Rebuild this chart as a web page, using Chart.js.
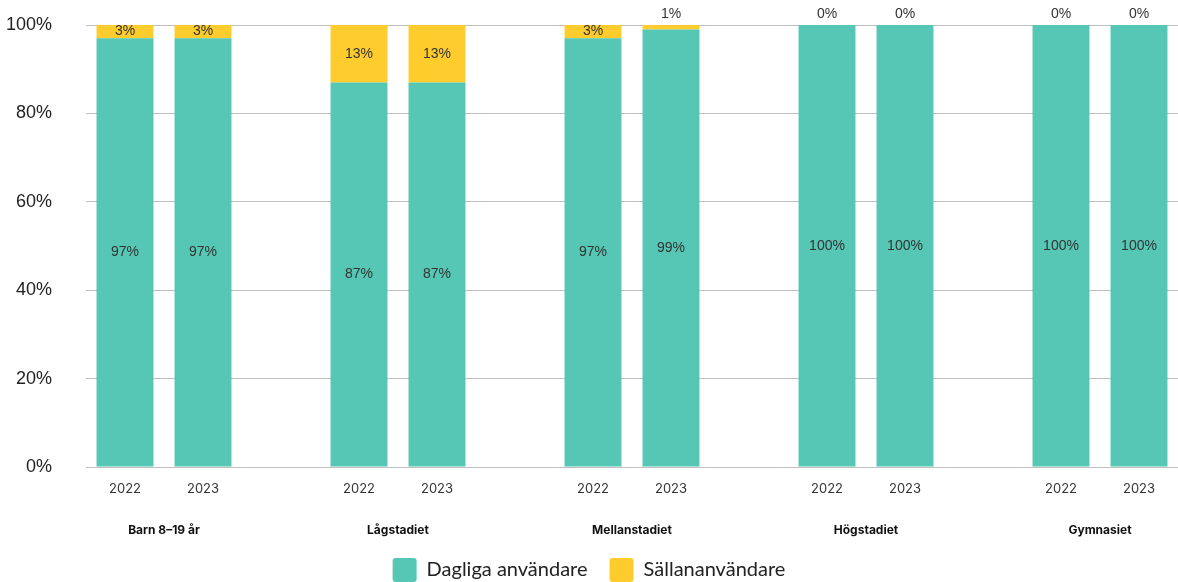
<!DOCTYPE html>
<html>
<head>
<meta charset="utf-8">
<script src="https://cdn.jsdelivr.net/npm/chart.js@4"></script>
<style>
  body { margin: 0; background: #fff; }
</style>
</head>
<body>
<canvas id="chart" width="1178" height="582"></canvas>
<script>
// data
const groups = ['Barn 8–19 år', 'Lågstadiet', 'Mellanstadiet', 'Högstadiet', 'Gymnasiet'];
const years = ['2022', '2023'];
const dagliga = [97, 97, 87, 87, 97, 99, 100, 100, 100, 100];
const sallan = [3, 3, 13, 13, 3, 1, 0, 0, 0, 0];
const yTicks = [0, 20, 40, 60, 80, 100];

// build category axis with an empty slot between groups
const labels = [];
const dagligaData = [];
const sallanData = [];
groups.forEach((g, i) => {
  years.forEach((y, j) => {
    labels.push(y);
    dagligaData.push(dagliga[i * 2 + j]);
    sallanData.push(sallan[i * 2 + j]);
  });
  if (i < groups.length - 1) {
    labels.push('');
    dagligaData.push(null);
    sallanData.push(null);
  }
});

// value labels inside segments (or above the bar if segment is too thin)
const valueLabels = {
  id: 'valueLabels',
  afterDatasetsDraw(chart) {
    const ctx = chart.ctx;
    ctx.save();
    ctx.font = '14px "Liberation Sans", Arial, sans-serif';
    ctx.fillStyle = '#333';
    ctx.textAlign = 'center';
    ctx.textBaseline = 'middle';
    chart.data.datasets.forEach((ds, di) => {
      const meta = chart.getDatasetMeta(di);
      meta.data.forEach((el, i) => {
        const v = ds.data[i];
        if (v === null || v === undefined) return;
        const h = Math.abs(el.base - el.y);
        let y = (el.y + el.base) / 2;
        if (h < 12) y = el.y - 11;
        ctx.fillText(v + '%', el.x, y);
      });
    });
    ctx.restore();
  }
};

// group labels under the years
const groupLabels = {
  id: 'groupLabels',
  afterDraw(chart) {
    const ctx = chart.ctx;
    const x = chart.scales.x;
    ctx.save();
    ctx.font = 'bold 12px Inter, "Liberation Sans", sans-serif';
    ctx.fillStyle = '#111';
    ctx.textAlign = 'center';
    ctx.textBaseline = 'middle';
    groups.forEach((g, i) => {
      const cx = (x.getPixelForValue(i * 3) + x.getPixelForValue(i * 3 + 1)) / 2;
      ctx.fillText(g, cx, 530);
    });
    ctx.restore();
  }
};

new Chart(document.getElementById('chart'), {
  type: 'bar',
  data: {
    labels: labels,
    datasets: [
      {
        label: 'Dagliga användare',
        data: dagligaData,
        backgroundColor: '#56C7B4'
      },
      {
        label: 'Sällananvändare',
        data: sallanData,
        backgroundColor: '#FFCC2E'
      }
    ]
  },
  options: {
    responsive: false,
    animation: false,
    layout: { padding: { top: 25, right: 0, left: 0, bottom: -10 } },
    datasets: {
      bar: { categoryPercentage: 1, barPercentage: 0.73 }
    },
    scales: {
      x: {
        stacked: true,
        grid: { display: false },
        border: { display: false },
        ticks: {
          padding: 6,
          maxRotation: 0,
          autoSkip: false,
          color: '#333',
          font: { family: 'Inter, "Liberation Sans", sans-serif', size: 13 }
        },
        afterFit(scale) { scale.height = 69; }
      },
      y: {
        stacked: true,
        min: 0,
        max: 100,
        afterBuildTicks(scale) { scale.ticks = yTicks.map(v => ({ value: v })); },
        grid: { color: '#bfbfbf', drawTicks: true, tickLength: 30, tickColor: 'rgba(0,0,0,0)' },
        border: { display: false },
        ticks: {
          padding: 4,
          color: '#222',
          font: { family: '"Liberation Sans", Arial, sans-serif', size: 18 },
          callback: v => v + '%'
        },
        afterFit(scale) { scale.width = 86; }
      }
    },
    plugins: {
      tooltip: { enabled: false },
      legend: {
        position: 'bottom',
        labels: {
          boxWidth: 24,
          boxHeight: 24,
          useBorderRadius: true,
          borderRadius: 3,
          padding: 22,
          color: '#222',
          font: { family: 'Lato, "Noto Sans", sans-serif', size: 20 }
        }
      }
    }
  },
  plugins: [valueLabels, groupLabels]
});
</script>
</body>
</html>
